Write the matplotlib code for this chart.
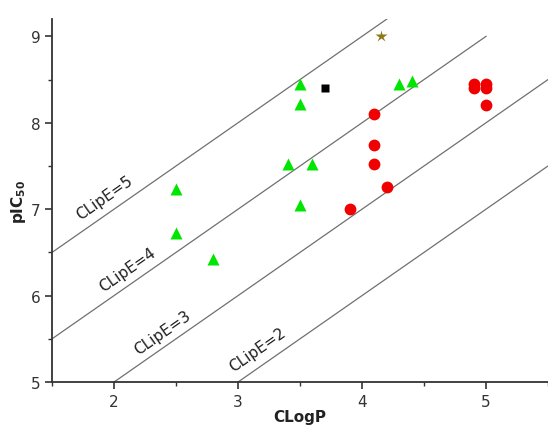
import matplotlib
matplotlib.use("Agg")
import matplotlib.pyplot as plt
import numpy as np
from matplotlib.ticker import MultipleLocator

# Data
tri_x = [2.5, 2.5, 2.8, 3.4, 3.5, 3.5, 3.5, 3.6, 4.3, 4.4]
tri_y = [7.23, 6.72, 6.42, 7.52, 8.45, 8.22, 7.05, 7.52, 8.45, 8.48]
sq_x = [3.7]
sq_y = [8.4]
star_x = [4.15]
star_y = [9.0]
circ_x = [3.9, 4.1, 4.1, 4.1, 4.2, 4.9, 4.9, 5.0, 5.0, 5.0]
circ_y = [7.0, 8.1, 7.74, 7.52, 7.26, 8.45, 8.4, 8.45, 8.4, 8.2]

clipe_vals = [5, 4, 3, 2]
clipe_xstart = [1.5, 1.5, 2.0, 3.0]
clipe_xend = [4.2, 5.0, 5.5, 5.5]
clipe_labels = ["CLipE=5", "CLipE=4", "CLipE=3", "CLipE=2"]
label_x = [1.92, 2.11, 2.39, 3.16]
label_y = [7.14, 6.30, 5.58, 5.38]

fig = plt.figure(figsize=(5.48, 4.27), dpi=100)
ax = fig.add_axes([0.095, 0.103, 0.905, 0.850])

for v, xs, xe in zip(clipe_vals, clipe_xstart, clipe_xend):
    xx = np.array([xs, xe])
    ax.plot(xx, xx + v, color="#707070", lw=0.9, zorder=1)

ax.plot(tri_x, tri_y, "^", color="#00e600", ms=9, mec="none", zorder=3)
ax.plot(circ_x, circ_y, "o", color="#f00000", ms=8.5, mec="none", zorder=3)
ax.plot(sq_x, sq_y, "s", color="black", ms=6, mec="none", zorder=3)
ax.plot(star_x, star_y, "*", color="#8b7a1a", ms=9, mec="none", zorder=3)

ax.set_xlim(1.5, 5.5)
ax.set_ylim(5, 9.2)

for lab, lx, ly in zip(clipe_labels, label_x, label_y):
    ax.text(lx, ly, lab, rotation=35, ha="center", va="center",
            fontsize=11, color="#202020", rotation_mode="anchor")

ax.spines["top"].set_visible(False)
ax.spines["right"].set_visible(False)
ax.spines["left"].set_linewidth(1.3)
ax.spines["bottom"].set_linewidth(1.3)
ax.spines["left"].set_color("#333333")
ax.spines["bottom"].set_color("#333333")

ax.xaxis.set_major_locator(MultipleLocator(1))
ax.xaxis.set_minor_locator(MultipleLocator(0.5))
ax.yaxis.set_major_locator(MultipleLocator(1))
ax.yaxis.set_minor_locator(MultipleLocator(0.5))
ax.tick_params(which="major", direction="out", length=5, width=1.2, labelsize=11, colors="#333333")
ax.tick_params(which="minor", direction="out", length=3, width=1.0, colors="#333333")

ax.set_xlabel("CLogP", fontsize=11, fontweight="bold", labelpad=0, color="#222222")
ax.set_ylabel(r"pIC$_{\mathbf{50}}$", fontsize=11, fontweight="bold", labelpad=2, color="#222222")

fig.savefig("out.png", dpi=100)
